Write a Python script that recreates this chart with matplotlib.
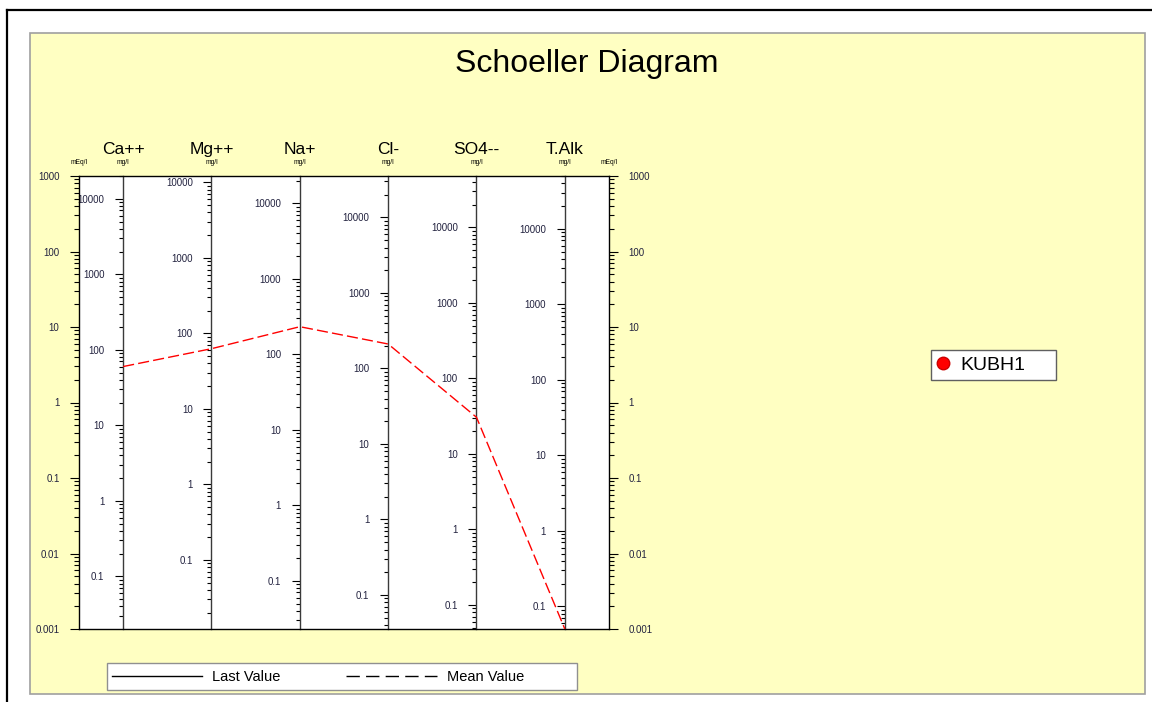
import numpy as np
import matplotlib
matplotlib.use("Agg")
import matplotlib.pyplot as plt
from matplotlib.lines import Line2D
from matplotlib.patches import Rectangle
from matplotlib.ticker import LogLocator, FuncFormatter, NullFormatter, NullLocator
from matplotlib.transforms import blended_transform_factory

# ions on the Schoeller axes and their equivalent weights (mg per mEq)
ions = ["Ca++", "Mg++", "Na+", "Cl-", "SO4--", "T.Alk"]
eq_weights = [20.04, 12.15, 22.99, 35.45, 48.03, 50.04]

# mean concentrations of the KUBH1 sample, mg/l
sample_name = "KUBH1"
kubh1_mean_mgl = [60.0, 62.7, 232.0, 211.0, 30.6, 0.05]

legend_labels = ["Last Value", "Mean Value"]

meq_min, meq_max = 0.001, 1000

W, H = 1152, 702
PANEL = "#ffffc2"
TICK_TEXT = "#22223f"

plt.rcParams["font.family"] = ["Liberation Sans", "DejaVu Sans"]

fig = plt.figure(figsize=(W / 100, H / 100), dpi=100)
fig.patch.set_facecolor("white")

# outer window frame (top and left edges) and the yellow chart panel
fig.lines.append(Line2D([7 / W, 1.0], [1 - 10 / H, 1 - 10 / H],
                        transform=fig.transFigure, color="black",
                        linewidth=1.6, zorder=-3))
fig.lines.append(Line2D([7 / W, 7 / W], [0.0, 1 - 10 / H],
                        transform=fig.transFigure, color="black",
                        linewidth=1.6, zorder=-3))
fig.patches.append(Rectangle((30 / W, 8 / H), 1115 / W, 661 / H,
                             transform=fig.transFigure, facecolor=PANEL,
                             edgecolor="#a0a0a0", linewidth=1.2, zorder=-2))

fig.text(587 / W, 1 - 64 / H, "Schoeller Diagram", fontsize=23,
         ha="center", va="center")

ax = fig.add_axes([79 / W, 73 / H, 530 / W, 453 / H])
ax.set_facecolor("white")
ax.set_xlim(0, len(ions))
ax.set_yscale("log")
ax.set_ylim(meq_min, meq_max)
ax.xaxis.set_major_locator(NullLocator())
for s in ax.spines.values():
    s.set_color("black")
    s.set_linewidth(1.0)

fmt = FuncFormatter(lambda v, _: f"{v:g}")

# mEq/l scale on both sides
ax.yaxis.set_major_locator(LogLocator(base=10, numticks=20))
ax.yaxis.set_minor_locator(LogLocator(base=10, subs=np.arange(2, 10), numticks=20))
ax.yaxis.set_major_formatter(fmt)
ax.yaxis.set_minor_formatter(NullFormatter())
ax.tick_params(axis="y", which="both", left=True, right=True,
               labelleft=True, labelright=True, direction="out",
               width=0.8, color="black")
ax.tick_params(axis="y", which="major", length=6.5, pad=7.5,
               labelsize=7, labelcolor=TICK_TEXT)
ax.tick_params(axis="y", which="minor", length=3.5)

# one mg/l scale per ion, placed at the middle of its column
xpos = np.arange(len(ions)) + 0.5
for i, (ion, w) in enumerate(zip(ions, eq_weights)):
    sec = ax.secondary_yaxis(xpos[i] / len(ions),
                             functions=(lambda x, w=w: x * w,
                                        lambda x, w=w: x / w))
    sec.set_alignment("left")
    sec.spines["left"].set_color("#3a3a3a")
    sec.spines["left"].set_linewidth(1.0)
    sec.yaxis.set_major_locator(LogLocator(base=10, numticks=20))
    sec.yaxis.set_minor_locator(LogLocator(base=10, subs=np.arange(2, 10), numticks=20))
    sec.yaxis.set_major_formatter(fmt)
    sec.yaxis.set_minor_formatter(NullFormatter())
    sec.tick_params(axis="y", which="both", direction="out", width=0.8, color="black")
    sec.tick_params(axis="y", which="major", length=5.5, pad=8,
                    labelsize=7, labelcolor=TICK_TEXT)
    sec.tick_params(axis="y", which="minor", length=3)

# column headers and units
top = blended_transform_factory(ax.transData, ax.transAxes)
for x, ion in zip(xpos, ions):
    ax.text(x, 1.0574, ion, transform=top, fontsize=12.5,
            ha="center", va="center")
    ax.text(x, 1.0287, "mg/l", transform=top, fontsize=4.8,
            ha="center", va="center")
ax.text(0, 1.0287, "mEq/l", transform=ax.transAxes, fontsize=4.8,
        ha="center", va="center")
ax.text(1, 1.0287, "mEq/l", transform=ax.transAxes, fontsize=4.8,
        ha="center", va="center")

# mean profile of the sample in mEq/l
kubh1_mean_meq = np.array(kubh1_mean_mgl) / np.array(eq_weights)
ax.plot(xpos, kubh1_mean_meq, color="red", linewidth=1.0,
        dashes=(8, 3), zorder=5)

# line style key at the bottom
fig.patches.append(Rectangle((107 / W, 12 / H), 470 / W, 27 / H,
                             transform=fig.transFigure, facecolor="white",
                             edgecolor="#909090", linewidth=1.0, zorder=-1))
style_handles = [Line2D([], [], color="black", linewidth=1.0),
                 Line2D([], [], color="black", linewidth=1.0, dashes=(9.6, 4.5))]
fig.legend(style_handles, legend_labels, loc="center left",
           bbox_to_anchor=(112 / W, 1 - 677 / H), ncol=2, frameon=False,
           fontsize=10.5, handlelength=6.2, handletextpad=0.69,
           columnspacing=4.5, borderpad=0, borderaxespad=0)

# sample key
fig.patches.append(Rectangle((931 / W, 1 - 380 / H), 125 / W, 30 / H,
                             transform=fig.transFigure, facecolor="white",
                             edgecolor="#606060", linewidth=1.0, zorder=-1))
fig.legend([Line2D([], [], marker="o", linestyle="", color="red",
                   markeredgecolor="#cc0000", markersize=9)],
           [sample_name], loc="center left",
           bbox_to_anchor=(935 / W, 1 - 365 / H), frameon=False,
           fontsize=14, handlelength=0.8, handletextpad=0.48,
           borderpad=0, borderaxespad=0)

fig.savefig("out.png", dpi=100)
